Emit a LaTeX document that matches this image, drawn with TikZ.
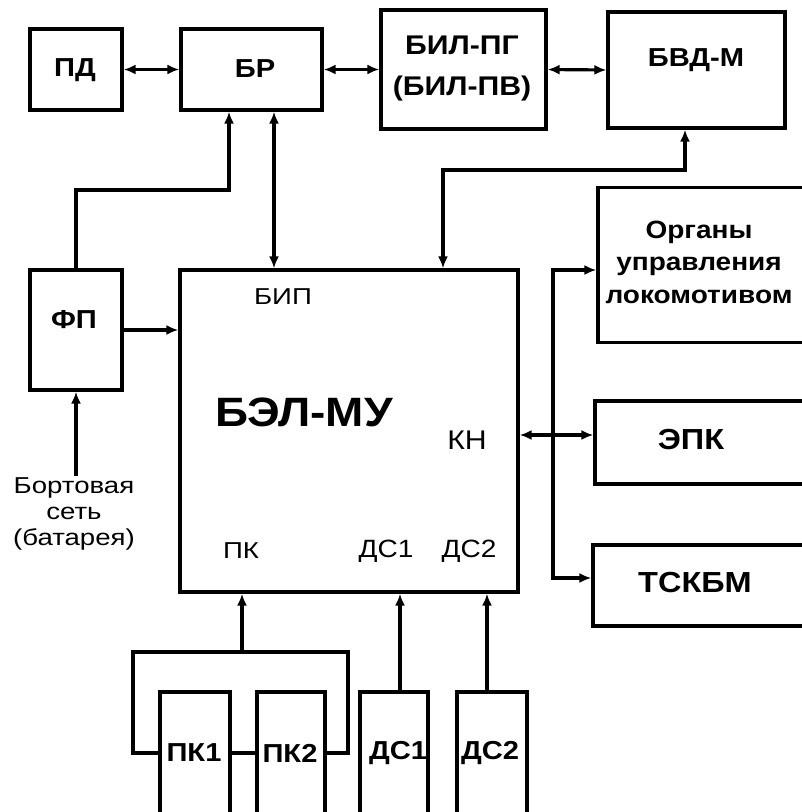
\documentclass[tikz,border=0pt]{standalone}
\usepackage{fontspec}
\setmainfont[FakeStretch=1.12]{Liberation Sans}
\newfontfamily\widefont[FakeStretch=1.2]{Liberation Sans}
\usetikzlibrary{arrows.meta}
\begin{document}
\begin{tikzpicture}[x=1pt,y=1pt,
  line width=3.2pt,
  box/.style={draw,rectangle,inner sep=0pt,line width=3.2pt},
  lbl/.style={inner sep=0pt,font=\widefont\fontsize{23}{26}\selectfont},
  blbl/.style={inner sep=0pt,font=\bfseries\fontsize{26}{32}\selectfont,align=center},
  arr/.style={-{Latex[length=12pt,width=10pt]}},
  biarr/.style={{Latex[length=12pt,width=10pt]}-{Latex[length=12pt,width=10pt]}}]
\useasboundingbox (0,0) rectangle (802,-812);
\clip (0,0) rectangle (802,-812);
% boxes
\node[box,minimum width=92pt,minimum height=81pt] (pd) at (76,-69.5) {};
\node[box,minimum width=141pt,minimum height=81pt] (br) at (251.5,-69.5) {};
\node[box,minimum width=165pt,minimum height=119pt] (bil) at (463.5,-69.5) {};
\node[box,minimum width=177pt,minimum height=116pt] (bvd) at (696.5,-70) {};
\node[box,minimum width=92pt,minimum height=120pt] (fp) at (76,-330) {};
\node[box,minimum width=338pt,minimum height=322pt] (bel) at (349,-431) {};
\node[box,minimum width=240pt,minimum height=155pt] (org) at (718,-265) {};
\node[box,minimum width=240pt,minimum height=83pt] (epk) at (715,-442.5) {};
\node[box,minimum width=240pt,minimum height=81pt] (tsk) at (713,-585.5) {};
\node[box,minimum width=70pt,minimum height=140pt] (pk1) at (195,-762) {};
\node[box,minimum width=68pt,minimum height=140pt] (pk2) at (291,-762) {};
\node[box,minimum width=68pt,minimum height=140pt] (ds1) at (394,-762) {};
\node[box,minimum width=70pt,minimum height=140pt] (ds2) at (492,-762) {};
% box texts
\node[blbl] (tpd) at (75,-70) {ПД};
\node[blbl] (tbr) at (255,-69) {БР};
\node[blbl,font=\bfseries\fontsize{27}{41}\selectfont] (tbil) at (462,-69) {БИЛ-ПГ\\(БИЛ-ПВ)};
\node[blbl] (tbvd) at (696,-60) {БВД-М};
\node[blbl] (tfp) at (74,-320) {ФП};
\node[blbl,font=\bfseries\fontsize{25}{32.5}\selectfont] (torg) at (699,-262) {Органы\\управления\\локомотивом};
\node[blbl,font=\bfseries\fontsize{29}{32}\selectfont] (tepk) at (691,-440) {ЭПК};
\node[blbl,font=\bfseries\fontsize{29}{32}\selectfont] (ttsk) at (695,-583) {ТСКБМ};
\node[blbl] (tpk1) at (194,-753) {ПК1};
\node[blbl] (tpk2) at (290,-753) {ПК2};
\node[blbl] (tds1) at (398,-753) {ДС1};
\node[blbl] (tds2) at (490,-753) {ДС2};
% BEL labels
\node[blbl,font=\bfseries\fontsize{41}{44}\selectfont] (tbel) at (304,-412) {БЭЛ-МУ};
\node[lbl] (tbip) at (283,-297) {БИП};
\node[lbl,font=\fontsize{27}{30}\selectfont] (tkn) at (467,-440) {КН};
\node[lbl] (tpk) at (241,-551) {ПК};
\node[lbl,font=\fontsize{25}{30}\selectfont] (tdc1) at (386,-551) {ДС1};
\node[lbl,font=\fontsize{25}{30}\selectfont] (tdc2) at (469,-551) {ДС2};
\node[lbl,align=center,font=\widefont\fontsize{23}{26}\selectfont] (bort) at (74,-514) {Бортовая\\сеть\\(батарея)};
% coordinates
\coordinate (k1) at (229,-190);
\coordinate (k3) at (443,-170);
\coordinate (k2) at (685,-170);
\coordinate (kn) at (518,-435);
\coordinate (b1) at (553,-270);
\coordinate (b2) at (553,-578);
\coordinate (pkc) at (242,-652);
\coordinate (pl) at (133,-652);
\coordinate (pr) at (348,-652);
\coordinate (pb) at (0,-753);
\coordinate (d1) at (400,-700);
\coordinate (d2) at (487,-700);
% connectors
\draw[biarr] (pd.east) -- (br.west);
\draw[biarr] (br.east) -- (bil.west);
\draw[biarr] (bil.east) -- (bvd.west);
\draw[arr] (fp.north) |- (k1) -- (k1 |- br.south);
\draw[biarr] (br.south -| 274,0) -- (bel.north -| 274,0);
\draw[biarr] (k3 |- bel.north) -- (k3) -- (k2) -- (k2 |- bvd.south);
\draw[arr] (fp.east) -- (fp.east -| bel.west);
\draw[arr] (fp.south |- bort.north) -- (fp.south);
\draw[biarr] (bel.east |- kn) -- (epk.west |- kn);
\draw[biarr] (org.west |- b1) -- (b1) -- (b2) -- (tsk.west |- b2);
\draw[arr] (pkc) -- (pkc |- bel.south);
\draw (pk1.west |- pb) -| (pl) -- (pr) |- (pk2.east |- pb);
\draw (pk1.east |- pb) -- (pk2.west |- pb);
\draw[arr] (d1 |- ds1.north) -- (d1 |- bel.south);
\draw[arr] (d2 |- ds2.north) -- (d2 |- bel.south);
\end{tikzpicture}
\end{document}
